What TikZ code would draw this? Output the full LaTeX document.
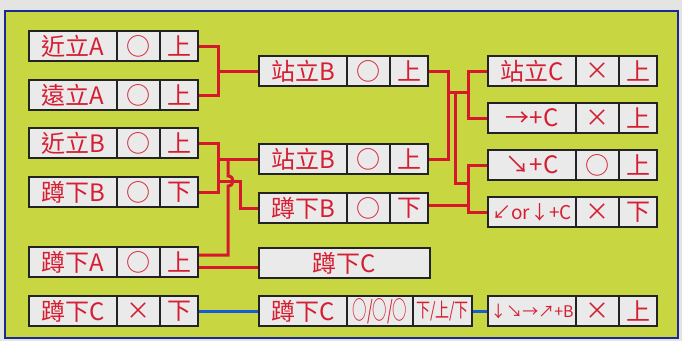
\documentclass[tikz,border=0pt]{standalone}
\usepackage{fontspec}
\setmainfont{Noto Sans CJK TC}
\usetikzlibrary{positioning,calc,backgrounds}
\definecolor{paper}{RGB}{228,228,226}
\definecolor{leaf}{RGB}{200,214,66}
\definecolor{frameblue}{RGB}{28,40,150}
\definecolor{cellgray}{RGB}{234,234,234}
\definecolor{cellline}{RGB}{35,35,35}
\definecolor{txtred}{RGB}{214,30,50}
\definecolor{wirered}{RGB}{214,24,44}
\definecolor{wireblue}{RGB}{25,90,215}

\begin{document}
\begin{tikzpicture}[x=1pt, y=-1pt, node distance=0pt]
\tikzstyle{cell}=[draw=cellline, fill=cellgray, line width=1.4pt, minimum height=30pt, inner sep=0pt, outer sep=0pt, text=txtred, font=\fontsize{24}{24}\selectfont]
\tikzstyle{first}=[cell, minimum width=88pt]
\tikzstyle{mid}=[cell, minimum width=43pt]
\tikzstyle{tip}=[cell, minimum width=38pt]
\tikzstyle{wire}=[draw=wirered, line width=3pt]
\tikzstyle{bwire}=[draw=wireblue, line width=3pt]

\useasboundingbox (0,0) rectangle (682,341);
\begin{scope}[on background layer]
\fill[paper] (0,0) rectangle (682,341);
\draw[frameblue, fill=leaf, line width=2pt] (5,11) rectangle (678,338);
\end{scope}

% left column
\node[first, anchor=west] (jinA) at (29,46) {近立A};
\node[mid, right=of jinA] (jinAm) {○};
\node[tip, right=of jinAm] (jinAs) {上};
\node[first, anchor=west] (yuanA) at (29,95) {遠立A};
\node[mid, right=of yuanA] (yuanAm) {○};
\node[tip, right=of yuanAm] (yuanAs) {上};
\node[first, anchor=west] (jinB) at (29,143) {近立B};
\node[mid, right=of jinB] (jinBm) {○};
\node[tip, right=of jinBm] (jinBs) {上};
\node[first, anchor=west] (dunB) at (29,192) {蹲下B};
\node[mid, right=of dunB] (dunBm) {○};
\node[tip, right=of dunBm] (dunBs) {下};
\node[first, anchor=west] (dunA) at (29,262) {蹲下A};
\node[mid, right=of dunA] (dunAm) {○};
\node[tip, right=of dunAm] (dunAs) {上};
\node[first, anchor=west] (dunC) at (29,311) {蹲下C};
\node[mid, right=of dunC] (dunCm) {×};
\node[tip, right=of dunCm] (dunCs) {下};

% middle column
\node[first, anchor=west] (zhanB) at (259,71) {站立B};
\node[mid, right=of zhanB] (zhanBm) {○};
\node[tip, right=of zhanBm] (zhanBs) {上};
\node[first, anchor=west] (zhanBb) at (259,159) {站立B};
\node[mid, right=of zhanBb] (zhanBbm) {○};
\node[tip, right=of zhanBbm] (zhanBbs) {上};
\node[first, anchor=west] (dunBb) at (259,208) {蹲下B};
\node[mid, right=of dunBb] (dunBbm) {○};
\node[tip, right=of dunBbm] (dunBbs) {下};
\node[cell, minimum width=171pt, anchor=west] (dunCw) at (259,263) {蹲下C};
\node[first, anchor=west] (dunCc) at (259,311) {蹲下C};
\node[cell, minimum width=66pt, right=of dunCc] (dunCcm) {\scalebox{0.6}[1.05]{○/○/○}};
\node[cell, minimum width=59pt, right=of dunCcm] (dunCcs) {\fontsize{20}{20}\selectfont\scalebox{0.7}[1]{下/上/下}};

% right column
\node[first, anchor=west] (zhanC) at (488,71) {站立C};
\node[mid, right=of zhanC] (zhanCm) {×};
\node[tip, right=of zhanCm] (zhanCs) {上};
\node[first, anchor=west] (arrC) at (488,118) {→+C};
\node[mid, right=of arrC] (arrCm) {×};
\node[tip, right=of arrCm] (arrCs) {上};
\node[first, anchor=west] (seC) at (488,165) {↘+C};
\node[mid, right=of seC] (seCm) {○};
\node[tip, right=of seCm] (seCs) {上};
\node[first, anchor=west, font=\fontsize{19}{19}\selectfont] (swC) at (488,212) {↙or↓+C};
\node[mid, right=of swC] (swCm) {×};
\node[tip, right=of swCm] (swCs) {下};
\node[first, anchor=west, font=\fontsize{16}{16}\selectfont] (moveB) at (488,311) {↓↘→↗+B};
\node[mid, right=of moveB] (moveBm) {×};
\node[tip, right=of moveBm] (moveBs) {上};

\begin{scope}[on background layer]
% left joins
\coordinate (j1) at (218,71);
\draw[wire] (jinAs.east) -| (j1) |- (yuanAs.east);
\draw[wire] (j1) -- (zhanB.west);
\coordinate (j2) at (218,159);
\draw[wire] (jinBs.east) -| (j2) |- (dunBs.east);
\draw[wire] (j2) -- (zhanBb.west);
\coordinate (j3) at (218,181);
\draw[wire] (j3) -| ([xshift=-19pt]dunBb.west) -- (dunBb.west);
\draw[wire] ([yshift=7pt]dunAs.east) -| (228,186) .. controls (234.7,186) and (234.7,176) .. (228,176) -- (228,159);
\draw[wire] ([yshift=-5pt]dunAs.east) -- ([yshift=-5pt]dunAs.east -| dunCw.west);
% right joins
\coordinate (j4) at (448,92);
\coordinate (j5) at (468,92);
\draw[wire] (zhanBs.east) -| (j4) |- (zhanBbs.east);
\draw[wire] (j4) -- (j5);
\draw[wire] (zhanC.west) -| (j5) |- (arrC.west);
\coordinate (j6) at (455,92);
\coordinate (j7) at (468,183);
\draw[wire] (j6) |- (j7);
\draw[wire] (seC.west) -| (j7) |- (swC.west);
\draw[wire] ([yshift=3pt]dunBbs.east) -- ([yshift=3pt]dunBbs.east -| j7);
% blue links
\draw[bwire] (dunCs.east) -- (dunCc.west);
\draw[bwire] (dunCcs.east) -- (moveB.west);
\end{scope}
\end{tikzpicture}
\end{document}
